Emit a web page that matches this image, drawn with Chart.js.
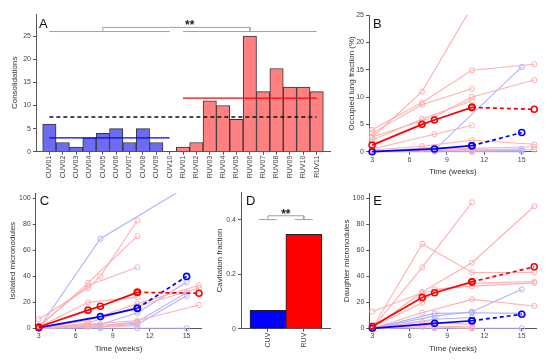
<!DOCTYPE html>
<html>
<head>
<meta charset="utf-8">
<script src="https://cdn.jsdelivr.net/npm/chart.js@4.4.0/dist/chart.umd.min.js"></script>
<style>
  html, body { margin: 0; padding: 0; background: #fff; width: 550px; height: 364px; overflow: hidden; }
  canvas { position: absolute; }
</style>
</head>
<body>
<canvas id="panelA" width="336" height="183" style="left:0;top:0"></canvas>
<canvas id="panelB" width="214" height="183" style="left:336px;top:0"></canvas>
<canvas id="panelC" width="207" height="181" style="left:0;top:183px"></canvas>
<canvas id="panelD" width="130" height="181" style="left:207px;top:183px"></canvas>
<canvas id="panelE" width="213" height="181" style="left:337px;top:183px"></canvas>
<script>
// A: consolidations per patient
const patientLabels = ['CUV01', 'CUV02', 'CUV03', 'CUV04', 'CUV05', 'CUV06', 'CUV07', 'CUV08', 'CUV09', 'CUV10',
  'RUV01', 'RUV02', 'RUV03', 'RUV04', 'RUV05', 'RUV06', 'RUV07', 'RUV08', 'RUV09', 'RUV10', 'RUV11'];
const consolidations = [6, 2, 1, 3, 4, 5, 2, 5, 2, 0, 1, 2, 11, 10, 7, 25, 13, 18, 14, 14, 13];
const consolidationTicks = [0, 5, 10, 15, 20, 25];
const cuvMeanConsolidations = 3.0;
const ruvMeanConsolidations = 11.6;
const allMeanConsolidations = 7.5;

// shared time axis (B, C, E)
const weeks = [3, 7, 8, 11, 15, 16];
const weekTicks = [3, 6, 9, 12, 15];

// B: occupied lung fraction (%)
const occupiedTicks = [0, 5, 10, 15, 20, 25];
const occupiedRuv = [
  [2.6, 11.0, null, 26.5, null, null],
  [4.0, 9.0, null, 14.9, null, 16.0],
  [3.4, 8.6, null, 11.5, null, null],
  [2.7, null, 6.4, 10.0, null, 13.1],
  [2.1, 6.0, null, 9.3, null, null],
  [0.5, null, 3.2, 4.8, null, null],
  [0.3, 1.0, null, 2.1, null, 1.35],
  [0.1, 0.5, null, 0.6, null, 0.9],
  [0.0, null, 0.3, 0.3, null, 0.4]
];
const occupiedCuv = [
  [0.0, null, 0.3, null, 15.5, null],
  [0.0, null, 0.8, 0.3, 0.5, null],
  [0.0, null, 0.2, 0.1, 0.2, null],
  [0.0, null, 0.0, 0.0, 0.0, null]
];
const occupiedRuvMean = [1.2, 5.0, 5.8, 8.1, null, null];
const occupiedRuvTail = [null, null, null, 8.1, null, 7.75];
const occupiedCuvMean = [0.0, null, 0.5, 1.1, null, null];
const occupiedCuvTail = [null, null, null, 1.1, 3.5, null];

// C: isolated micronodules
const noduleTicks = [0, 20, 40, 60, 80, 100];
const isolatedRuv = [
  [7, 31, 40, 83, null, null],
  [1, 35, null, 71, null, null],
  [2, 33, null, 47, null, null],
  [1, 20, null, 24, null, null],
  [0, 6, null, 19, null, 33],
  [0, 4, null, 17, null, 31],
  [0, 3, null, 6, null, 18],
  [0, 2, 2, 4, null, null],
  [0, 1, null, 2, null, null]
];
const isolatedCuv = [
  [0, null, 69, null, 109, null],
  [0, null, 3, 12, 35.5, null],
  [0, null, 2, 5, 27.5, null],
  [0, null, 1, 3, 25, null],
  [0, null, 0, 0, 0, null]
];
const isolatedRuvMean = [1, 14, 17, 27.7, null, null];
const isolatedRuvTail = [null, null, null, 27.7, null, 27];
const isolatedCuvMean = [0.5, null, 9, 15.4, null, null];
const isolatedCuvTail = [null, null, null, 15.4, 40, null];

// D: cavitation fraction
const groups = ['CUV', 'RUV'];
const cavitationFraction = [0.067, 0.346];
const cavitationTicks = [0, 0.2, 0.4];

// E: daughter micronodules
const daughterRuv = [
  [0, 47, null, 97, null, null],
  [0, 65, null, 43, null, 43],
  [0, 28, null, 50.5, null, 94],
  [13, 27.4, null, 34.6, null, 36],
  [1, 19.7, 30, 32.5, null, 35],
  [0, 12, null, 22.3, null, 17.2],
  [0, 5, null, 3, null, null],
  [0, 2, null, 1, null, null],
  [0, 1, 1, 0, null, null]
];
const daughterCuv = [
  [0, null, 11.5, 12, 11.5, null],
  [0, null, 9.4, 12.8, 30, null],
  [0, null, 7, 8.3, null, null],
  [0, null, 0, 0, 0, null]
];
const daughterRuvMean = [1.5, 23.8, 27.4, 35.8, null, null];
const daughterRuvTail = [null, null, null, 35.8, null, 47.4];
const daughterCuvMean = [0, null, 3.8, 5.8, null, null];
const daughterCuvTail = [null, null, null, 5.8, 10.8, null];

const FONT = "'Liberation Sans', Arial, sans-serif";
const AXIS = '#555';
const TEXT = '#444';
const RED = '#ff0000';
const BLUE = '#0000ff';
const LIGHT_RED = '#ffb0b0';
const LIGHT_BLUE = '#b0b0ff';
Chart.defaults.font.family = FONT;
Chart.defaults.color = TEXT;

function fixedTicks(values) {
  return scale => { scale.ticks = values.map(v => ({ value: v })); };
}

function letter(text, dx, dy) {
  return {
    id: 'letter',
    afterDraw(chart) {
      const { ctx, chartArea } = chart;
      ctx.save();
      ctx.font = '13px ' + FONT;
      ctx.fillStyle = '#111';
      ctx.textBaseline = 'alphabetic';
      ctx.fillText(text, chartArea.left + dx, chartArea.top + dy);
      ctx.restore();
    }
  };
}

function stars(xVal, yVal) {
  return {
    id: 'stars',
    afterDatasetsDraw(chart) {
      const { ctx, scales } = chart;
      ctx.save();
      ctx.font = 'bold 12px ' + FONT;
      ctx.fillStyle = '#222';
      ctx.textAlign = 'center';
      ctx.textBaseline = 'alphabetic';
      ctx.fillText('**', scales.x.getPixelForValue(xVal), scales.y.getPixelForValue(yVal));
      ctx.restore();
    }
  };
}

function gridStyle() {
  return { drawOnChartArea: false, drawTicks: true, tickLength: 3, color: AXIS, offset: false };
}

function seg(points, color, width, dash) {
  return {
    type: 'line', data: points, borderColor: color, borderWidth: width, borderDash: dash || [],
    pointRadius: 0, fill: false, tension: 0, order: 0, clip: false
  };
}

// one patient (or mean) track over the weeks
function track(vals, color, bold, dash) {
  const pts = [];
  weeks.forEach((w, i) => { if (vals[i] !== null) pts.push({ x: w, y: vals[i] }); });
  return {
    data: pts, borderColor: color, borderWidth: bold ? 1.7 : 1.1, borderDash: dash || [],
    pointRadius: bold ? 3 : 2.6, pointBorderWidth: bold ? 1.6 : 1,
    pointBorderColor: color, pointBackgroundColor: 'rgba(0,0,0,0)',
    fill: false, tension: 0, order: bold ? 0 : 1,
    clip: { left: 6, right: 6, top: 0, bottom: 6 }
  };
}

// Panel A (patients sit at positions 1..21 on a linear axis)
new Chart(document.getElementById('panelA'), {
  type: 'bar',
  data: {
    datasets: [
      {
        data: consolidations.map((v, i) => ({ x: i + 1, y: v })),
        backgroundColor: patientLabels.map(l => l.startsWith('CUV') ? '#6c6cf2' : '#ff8080'),
        borderColor: '#333', borderWidth: 1, barPercentage: 1, categoryPercentage: 1, order: 2
      },
      seg([{ x: 1, y: cuvMeanConsolidations }, { x: 10, y: cuvMeanConsolidations }], BLUE, 1.2),
      seg([{ x: 11, y: ruvMeanConsolidations }, { x: 21, y: ruvMeanConsolidations }], RED, 1.2),
      seg([{ x: 1, y: allMeanConsolidations }, { x: 21, y: allMeanConsolidations }], '#111', 1.6, [4, 3]),
      seg([{ x: 1, y: 26 }, { x: 10, y: 26 }], '#a0a0a0', 1),
      seg([{ x: 11, y: 26 }, { x: 21, y: 26 }], '#a0a0a0', 1),
      seg([{ x: 5, y: 26 }, { x: 5, y: 26.9 }, { x: 16, y: 26.9 }, { x: 16, y: 26 }], '#a0a0a0', 1)
    ]
  },
  options: {
    responsive: false, animation: false, events: [],
    layout: { padding: { left: 0, top: 14, right: 6, bottom: 0 } },
    plugins: { legend: { display: false }, tooltip: { enabled: false } },
    scales: {
      x: {
        type: 'linear', offset: false, min: 0, max: 22,
        afterBuildTicks: fixedTicks(patientLabels.map((l, i) => i + 1)),
        afterFit: s => { s.height = 31.3; },
        grid: gridStyle(), border: { color: AXIS },
        ticks: { font: { size: 7 }, color: TEXT, padding: 1, autoSkip: false, minRotation: 90, maxRotation: 90,
          callback: v => patientLabels[v - 1] }
      },
      y: {
        min: 0, max: 29.8,
        afterBuildTicks: fixedTicks(consolidationTicks),
        afterFit: s => { s.width = 36; },
        grid: gridStyle(), border: { color: AXIS },
        ticks: { font: { size: 7 }, color: TEXT, padding: 2 },
        title: { display: true, text: 'Consolidations', font: { size: 8 }, color: '#333', padding: { top: 10, bottom: 0 } }
      }
    }
  },
  plugins: [letter('A', 3, 13.5), stars(11.5, 26.5)]
});

function timeChart(id, o) {
  const datasets = [];
  o.ruv.forEach(v => datasets.push(track(v, LIGHT_RED, false)));
  o.cuv.forEach(v => datasets.push(track(v, LIGHT_BLUE, false)));
  datasets.push(track(o.ruvTail, RED, true, [4, 3]));
  datasets.push(track(o.cuvTail, BLUE, true, [4, 3]));
  datasets.push(track(o.ruvMean, RED, true));
  datasets.push(track(o.cuvMean, BLUE, true));
  new Chart(document.getElementById(id), {
    type: 'line',
    data: { datasets },
    options: {
      responsive: false, animation: false, events: [],
      layout: { padding: { left: 0, top: o.top, right: o.right, bottom: 0 } },
      plugins: { legend: { display: false }, tooltip: { enabled: false } },
      scales: {
        x: {
          type: 'linear', min: 2.75, max: 16.2,
          afterBuildTicks: fixedTicks(weekTicks),
          afterFit: s => { s.height = o.xh; },
          grid: gridStyle(), border: { color: AXIS },
          ticks: { font: { size: 7 }, color: TEXT, padding: 1, maxRotation: 0 },
          title: { display: true, text: 'Time (weeks)', font: { size: 8 }, color: '#333', padding: { top: 0, bottom: o.xtp } }
        },
        y: {
          min: 0, max: o.ymax,
          afterBuildTicks: fixedTicks(o.ticks),
          afterFit: s => { s.width = o.yw; },
          grid: gridStyle(), border: { color: AXIS },
          ticks: { font: { size: 7 }, color: TEXT, padding: 2 },
          title: { display: true, text: o.ytitle, font: { size: 8 }, color: '#333', padding: { top: o.ytp, bottom: 0 } }
        }
      }
    },
    plugins: [letter(o.letter, o.ldx, o.ldy)]
  });
}

timeChart('panelB', {
  ruv: occupiedRuv, cuv: occupiedCuv,
  ruvMean: occupiedRuvMean, ruvTail: occupiedRuvTail, cuvMean: occupiedCuvMean, cuvTail: occupiedCuvTail,
  ymax: 25, ticks: occupiedTicks, ytitle: 'Occupied lung fraction (%)',
  top: 15, right: 13.3, xh: 31.3, yw: 33, xtp: 6.5, ytp: 10.7, letter: 'B', ldx: 4, ldy: 13.3
});

timeChart('panelC', {
  ruv: isolatedRuv, cuv: isolatedCuv,
  ruvMean: isolatedRuvMean, ruvTail: isolatedRuvTail, cuvMean: isolatedCuvMean, cuvTail: isolatedCuvTail,
  ymax: 104, ticks: noduleTicks, ytitle: 'Isolated micronodules',
  top: 10.3, right: 4.7, xh: 35.7, yw: 35.7, xtp: 10.9, ytp: 8.2, letter: 'C', ldx: 4, ldy: 11.7
});

timeChart('panelE', {
  ruv: daughterRuv, cuv: daughterCuv,
  ruvMean: daughterRuvMean, ruvTail: daughterRuvTail, cuvMean: daughterCuvMean, cuvTail: daughterCuvTail,
  ymax: 104, ticks: noduleTicks, ytitle: 'Daughter micronodules',
  top: 10.3, right: 13.3, xh: 35.7, yw: 32.3, xtp: 10.9, ytp: 5.2, letter: 'E', ldx: 4, ldy: 11.7
});

// Panel D
new Chart(document.getElementById('panelD'), {
  type: 'bar',
  data: {
    datasets: [
      {
        data: groups.map((g, i) => ({ x: i + 1, y: cavitationFraction[i] })),
        backgroundColor: [BLUE, RED], borderColor: '#222', borderWidth: 1,
        barPercentage: 1, categoryPercentage: 1, order: 2
      },
      seg([{ x: 0.75, y: 0.4 }, { x: 1.25, y: 0.4 }], '#a0a0a0', 1),
      seg([{ x: 1.75, y: 0.4 }, { x: 2.25, y: 0.4 }], '#a0a0a0', 1),
      seg([{ x: 1, y: 0.4 }, { x: 1, y: 0.414 }, { x: 2, y: 0.414 }, { x: 2, y: 0.4 }], '#a0a0a0', 1)
    ]
  },
  options: {
    responsive: false, animation: false, events: [],
    layout: { padding: { left: 0, top: 9.3, right: 6.3, bottom: 0 } },
    plugins: { legend: { display: false }, tooltip: { enabled: false } },
    scales: {
      x: {
        type: 'linear', offset: false, min: 0.25, max: 2.75,
        afterBuildTicks: fixedTicks([1, 2]),
        afterFit: s => { s.height = 35.3; },
        grid: gridStyle(), border: { color: AXIS },
        ticks: { font: { size: 7 }, color: TEXT, padding: 1, minRotation: 90, maxRotation: 90,
          callback: v => groups[v - 1] }
      },
      y: {
        min: 0, max: 0.5,
        afterBuildTicks: fixedTicks(cavitationTicks),
        afterFit: s => { s.width = 34; },
        grid: gridStyle(), border: { color: AXIS },
        ticks: { font: { size: 7 }, color: TEXT, padding: 2 },
        title: { display: true, text: 'Cavitation fraction', font: { size: 8 }, color: '#333', padding: { top: 8.2, bottom: 0 } }
      }
    }
  },
  plugins: [letter('D', 5, 12.7), stars(1.5, 0.405)]
});
</script>
</body>
</html>
